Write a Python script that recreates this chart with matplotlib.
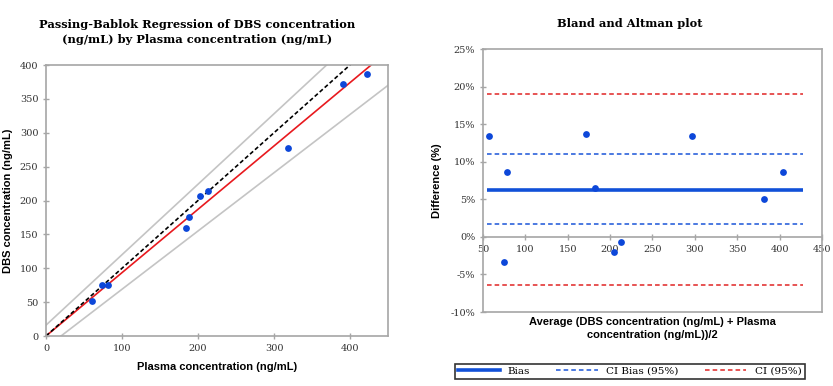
import numpy as np
import matplotlib
matplotlib.use('Agg')
import matplotlib.pyplot as plt
from matplotlib.ticker import FuncFormatter
from matplotlib.lines import Line2D

# Passing-Bablok data
plasma = [60, 74, 81, 184, 188, 203, 213, 318, 391, 422]
dbs = [52, 76, 75, 160, 175, 207, 214, 277, 372, 387]

# regression lines (intercept, slope)
identity = (0, 1.0)
pb_fit = (0, 0.935)
ci_upper = (16, 1.04)
ci_lower = (-17, 0.86)

# Bland-Altman data
ba_avg = [57, 75, 78, 172, 182, 205, 213, 297, 381, 404]
ba_diff = [13.4, -3.3, 8.6, 13.7, 6.5, -2.0, -0.7, 13.4, 5.0, 8.6]
bias = 6.3
ci_bias = [1.7, 11.0]
ci_95 = [-6.4, 19.0]
ba_xrange = [55, 427]

serif = 'DejaVu Serif'
sans = 'Liberation Sans'
frame_col = '#a6a6a6'
dot_col = '#0d47d9'

fig = plt.figure(figsize=(8.33, 3.86), dpi=100)

# ---- left: Passing-Bablok
ax1 = fig.add_axes([0.0552, 0.1295, 0.4106, 0.7021])
xs = np.array([0, 450])
for (b, m), col, ls in [(ci_upper, '#c4c4c4', '-'), (ci_lower, '#c4c4c4', '-'),
                        (pb_fit, '#e8191e', '-'), (identity, 'black', (0, (2.5, 1.5)))]:
    ax1.plot(xs, b + m * xs, color=col, ls=ls, lw=1.2, zorder=2)
ax1.scatter(plasma, dbs, s=24, color=dot_col, zorder=3, linewidths=0)
ax1.set_xlim(0, 450)
ax1.set_ylim(0, 400)
ax1.set_xticks([0, 100, 200, 300, 400])
ax1.set_yticks(range(0, 401, 50))
ax1.set_xlabel('Plasma concentration (ng/mL)', fontfamily=sans, fontweight='bold', fontsize=8, labelpad=7)
ax1.set_ylabel('DBS concentration (ng/mL)', fontfamily=sans, fontweight='bold', fontsize=8, labelpad=5)

# ---- right: Bland-Altman
ax2 = fig.add_axes([0.5798, 0.1917, 0.407, 0.6813])
ax2.hlines(ci_95, *ba_xrange, colors='#e02424', linestyles=(0, (3, 2)), lw=1.1)
ax2.hlines(ci_bias, *ba_xrange, colors='#1a55d8', linestyles=(0, (3, 2)), lw=1.1)
ax2.hlines(bias, *ba_xrange, colors='#1150d8', lw=2.6)
ax2.scatter(ba_avg, ba_diff, s=24, color=dot_col, zorder=3, linewidths=0)
ax2.set_xlim(50, 450)
ax2.set_ylim(-10, 25)
ax2.set_xticks(range(50, 451, 50))
ax2.set_yticks(range(-10, 26, 5))
ax2.yaxis.set_major_formatter(FuncFormatter(lambda v, p: '%d%%' % v))
ax2.spines['bottom'].set_position(('data', 0))
ax2.axhline(-10, color=frame_col, lw=1.2, clip_on=False)
ax2.set_ylabel('Difference (%)', fontfamily=sans, fontweight='bold', fontsize=8, labelpad=6)
ax2.set_xlabel('Average (DBS concentration (ng/mL) + Plasma\nconcentration (ng/mL))/2',
               fontfamily=sans, fontweight='bold', fontsize=8, linespacing=1.3)
ax2.xaxis.set_label_coords(0.5, -0.02)

for ax in (ax1, ax2):
    for sp in ax.spines.values():
        sp.set_color(frame_col)
        sp.set_linewidth(1.2)
    ax.tick_params(direction='inout', length=5, width=1, color=frame_col,
                   labelsize=7, pad=3)
    for lab in ax.get_xticklabels() + ax.get_yticklabels():
        lab.set_fontfamily(serif)
        lab.set_color('#333333')

fig.text(0.237, 0.918, 'Passing-Bablok Regression of DBS concentration\n(ng/mL) by Plasma concentration (ng/mL)',
         ha='center', va='center', fontfamily=serif, fontweight='bold', fontsize=8.2, linespacing=1.45)
fig.text(0.756, 0.94, 'Bland and Altman plot', ha='center', va='center',
         fontfamily=serif, fontweight='bold', fontsize=8.2)

handles = [Line2D([], [], color='#1150d8', lw=2.6),
           Line2D([], [], color='#1a55d8', lw=1.1, ls=(0, (3, 2))),
           Line2D([], [], color='#e02424', lw=1.1, ls=(0, (3, 2)))]
leg = fig.legend(handles, ['Bias', 'CI Bias (95%)', 'CI (95%)'], loc='center',
                 bbox_to_anchor=(0.756, 0.038), ncol=3, frameon=True, fancybox=False,
                 edgecolor='black', handlelength=4, columnspacing=2.5,
                 prop={'family': serif, 'size': 7.5}, borderpad=0.3, borderaxespad=0)
leg.get_frame().set_linewidth(1.2)

fig.savefig('out.png', dpi=100)
